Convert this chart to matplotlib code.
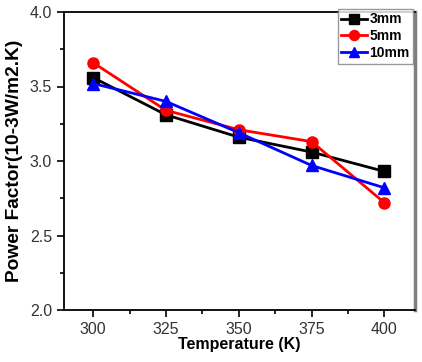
import matplotlib
matplotlib.use("Agg")
import matplotlib.pyplot as plt
from matplotlib.ticker import MultipleLocator

plt.rcParams['font.family'] = ['Liberation Sans', 'DejaVu Sans']

temps = [300, 325, 350, 375, 400]
pf_3mm = [3.56, 3.31, 3.16, 3.06, 2.93]
pf_5mm = [3.66, 3.34, 3.21, 3.13, 2.72]
pf_10mm = [3.52, 3.40, 3.19, 2.97, 2.82]

fig = plt.figure(figsize=(4.22, 3.62), dpi=100)
ax = fig.add_axes([64/422, 1 - 310/362, (415-64)/422, (310-12)/362])

ax.plot(temps, pf_3mm, color='black', marker='s', ms=8, lw=2, label='3mm')
ax.plot(temps, pf_5mm, color='red', marker='o', ms=8, lw=2, label='5mm')
ax.plot(temps, pf_10mm, color='blue', marker='^', ms=8, lw=2, label='10mm')

ax.set_xlim(290, 410.5)
ax.set_ylim(2.0, 4.0)
ax.set_xticks(temps)
ax.xaxis.set_minor_locator(MultipleLocator(12.5))
ax.yaxis.set_major_locator(MultipleLocator(0.5))
ax.yaxis.set_minor_locator(MultipleLocator(0.25))
ax.tick_params(which='major', length=5, width=1.2, labelsize=11.5, labelcolor='#333333')
ax.tick_params(which='minor', length=3, width=1.2)
ax.tick_params(top=False, right=False)
for s in ['left', 'bottom', 'top']:
    ax.spines[s].set_linewidth(1.3)
ax.spines['right'].set_linewidth(2.5)
ax.spines['right'].set_color('#7f7f7f')

ax.set_xlabel('Temperature (K)', fontsize=11.5, fontweight='bold', labelpad=0)
ax.set_ylabel('Power Factor(10-3W/m2.K)', fontsize=13.8, fontweight='bold', labelpad=5)

leg = ax.legend(loc='upper right', bbox_to_anchor=(0.995, 1.01),
                prop={'weight': 'bold', 'size': 10},
                frameon=True, fancybox=False, edgecolor='#808080',
                handlelength=1.9, handletextpad=0.15, borderpad=0.25,
                labelspacing=0.2, borderaxespad=0.0, markerscale=0.9)
leg.get_frame().set_linewidth(1.0)

fig.savefig('out.png', dpi=100)
